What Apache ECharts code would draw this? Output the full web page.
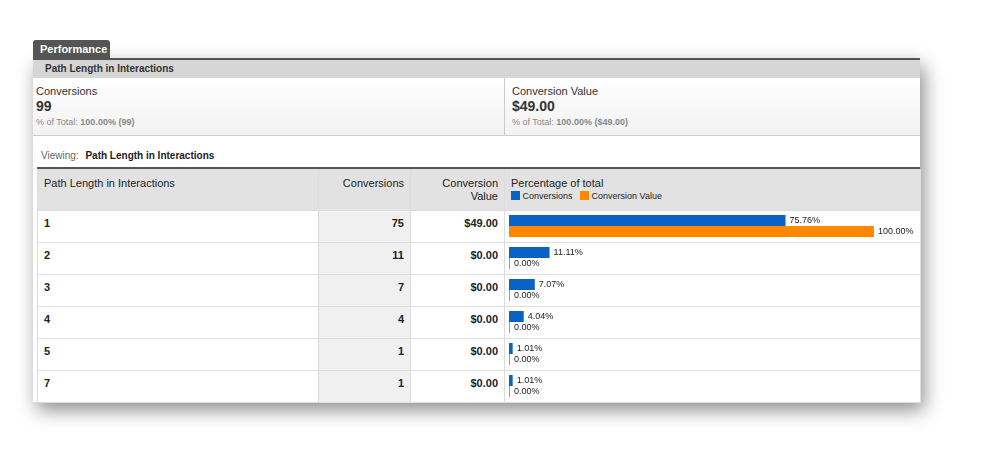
<!DOCTYPE html>
<html><head><meta charset="utf-8">
<script src="https://cdn.jsdelivr.net/npm/echarts@6/dist/echarts.min.js"></script>
<style>
body{margin:0;width:985px;height:468px;background:#fff;font-family:Arial,"Liberation Sans",sans-serif;position:relative;overflow:hidden}
.a{position:absolute}
.card{left:33px;top:58px;width:887px;height:344px;background:#fff;box-shadow:4px 8px 18px rgba(0,0,0,.45)}
td{border:1px solid #ddd;font-size:11px;color:#222;padding:0 6px;box-sizing:border-box}
</style></head><body>
<div class="a card"></div>
<div class="a" style="left:33px;top:40px;width:77px;height:19px;background:#555;border-radius:3px 3px 0 0;color:#fff;font-weight:bold;font-size:11px;line-height:19px;padding-left:7px;box-sizing:border-box">Performance</div>
<div class="a" style="left:33px;top:58px;width:887px;height:2px;background:#555"></div>
<div class="a" style="left:33px;top:60px;width:887px;height:18px;background:#d6d6d6;font-size:10px;font-weight:bold;color:#333;line-height:18px;padding-left:12px;box-sizing:border-box">Path Length in Interactions</div>
<div class="a" style="left:33px;top:78px;width:887px;height:57px;background:linear-gradient(#fff,#f2f2f2);border-bottom:1px solid #ccc"></div>
<div class="a" style="left:504px;top:78px;width:1px;height:57px;background:#ccc"></div>
<div class="a" style="left:36px;top:85px;font-size:11px;color:#333">Conversions</div>
<div class="a" style="left:36px;top:98px;font-size:14px;font-weight:bold;color:#333">99</div>
<div class="a" style="left:36px;top:117px;font-size:9px;color:#888">% of Total: <b>100.00% (99)</b></div>
<div class="a" style="left:512px;top:85px;font-size:11px;color:#333">Conversion Value</div>
<div class="a" style="left:512px;top:98px;font-size:14px;font-weight:bold;color:#333">$49.00</div>
<div class="a" style="left:512px;top:117px;font-size:9px;color:#888">% of Total: <b>100.00% ($49.00)</b></div>
<div class="a" style="left:41px;top:150px;font-size:10px;color:#666">Viewing: <b style="color:#222;margin-left:4px">Path Length in Interactions</b></div>
<div class="a" style="left:37px;top:167px;width:883px;height:2px;background:#555"></div>
<table id="t" class="a" style="left:37px;top:169px;width:883px;border-collapse:collapse;table-layout:fixed"></table>
<div id="c" class="a" style="left:504px;top:210px;width:416px;height:192px"></div>
<script>
const categories=["1","2","3","4","5","7"];
const conversions=[75,11,7,4,1,1];
const convValue=["$49.00","$0.00","$0.00","$0.00","$0.00","$0.00"];
const pctConversions=[75.76,11.11,7.07,4.04,1.01,1.01];
const pctValue=[100,0,0,0,0,0];
let h='<colgroup><col style="width:281px"><col style="width:92px"><col style="width:94px"><col style="width:416px"></colgroup>';
h+='<tr style="height:41px;background:#e2e2e2;vertical-align:top"><td style="padding-top:7px">Path Length in Interactions</td><td style="text-align:right;padding-top:7px">Conversions</td><td style="text-align:right;padding-top:7px;line-height:13px">Conversion<br>Value</td><td style="padding-top:7px">Percentage of total<div style="font-size:9px;margin-top:2px"><span style="display:inline-block;width:9px;height:9px;background:#0b62c4;vertical-align:-1px"></span> Conversions &nbsp;&nbsp;<span style="display:inline-block;width:9px;height:9px;background:#ff8800;vertical-align:-1px"></span> Conversion Value</div></td></tr>';
categories.forEach((c,i)=>{h+=`<tr style="height:32px;font-weight:bold;vertical-align:top"><td style="padding-top:6px">${c}</td><td style="text-align:right;background:#f0f0f0;padding-top:6px">${conversions[i]}</td><td style="text-align:right;padding-top:6px">${convValue[i]}</td><td></td></tr>`;});
document.getElementById('t').innerHTML=h;
const ch=echarts.init(document.getElementById('c'));
const lbl={show:true,position:'right',fontSize:9,color:'#222',distance:4,formatter:p=>p.value.toFixed(2)+'%'};
ch.setOption({animation:false,
grid:{left:5,top:0,width:365,height:192},
xAxis:{type:'value',min:0,max:100,show:false},
yAxis:{type:'category',data:categories,inverse:true,show:false},
series:[
{type:'bar',data:pctConversions,barWidth:11,barGap:'0%',itemStyle:{color:'#0b62c4'},label:lbl},
{type:'bar',data:pctValue,barWidth:11,barMinHeight:1,itemStyle:{color:'#ff8800'},label:lbl}
]});
</script></body></html>
